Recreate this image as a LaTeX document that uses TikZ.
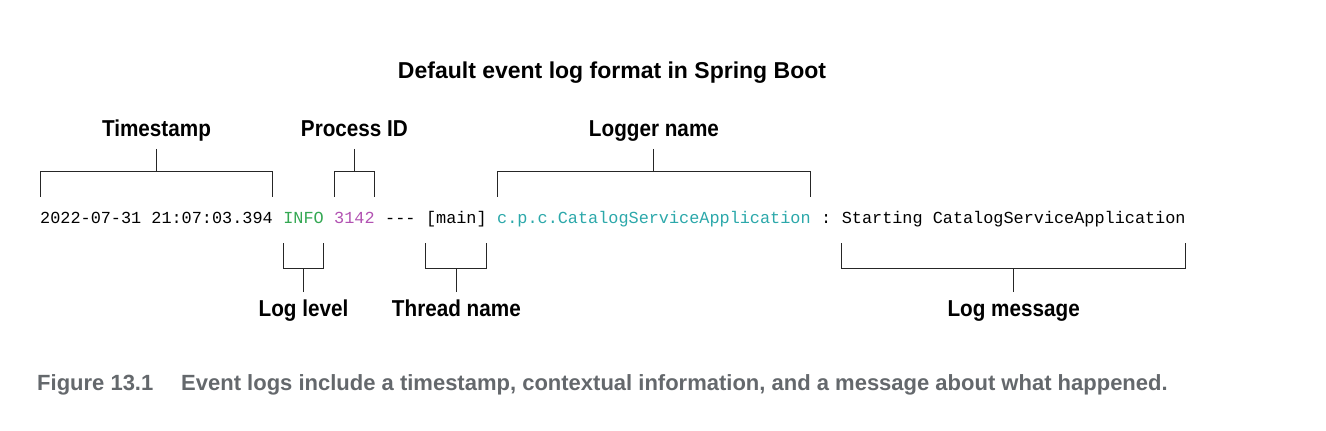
\documentclass[tikz,border=0pt]{standalone}
\usepackage{fontspec}
\setmainfont{Liberation Sans}
\setmonofont{Liberation Mono}
\newfontfamily\labelfont[FakeStretch=0.9]{Liberation Sans}
\usetikzlibrary{positioning}
\definecolor{infogreen}{RGB}{52,168,83}
\definecolor{pidpink}{RGB}{178,82,178}
\definecolor{loggerteal}{RGB}{44,168,170}
\definecolor{captiongray}{RGB}{100,104,108}
\tikzset{
  log text/.style={
    font=\fontsize{16.85}{18}\selectfont\ttfamily,
    inner sep=0pt, text height=12pt, text depth=4pt
  },
  part label/.style={
    font=\fontsize{23}{26}\selectfont\labelfont\bfseries,
    text height=17pt, text depth=5pt,
    inner ysep=7pt, inner xsep=2pt
  },
  bracket/.style={
    line width=1pt, draw=black!85
  },
  caption text/.style={
    font=\fontsize{22}{25}\selectfont\bfseries,
    text=captiongray, anchor=base west, inner sep=0pt
  },
}

\begin{document}
\begin{tikzpicture}[x=1pt, y=-1pt]
  \useasboundingbox (0,0) rectangle (1326,431);

  \node[font=\fontsize{23}{26}\selectfont\bfseries] (title) at (612,73)
    {Default event log format in Spring Boot};

  % The log line
  \node[log text, anchor=base west] (ts) at (40,223) {2022-07-31 21:07:03.394};
  \node[log text, text=infogreen, base right=10.11pt of ts] (lvl) {INFO};
  \node[log text, text=pidpink, base right=10.11pt of lvl] (pid) {3142};
  \node[log text, base right=10.11pt of pid] (sep) {---};
  \node[log text, base right=10.11pt of sep] (thr) {[main]};
  \node[log text, text=loggerteal, base right=10.11pt of thr] (lgr)
    {c.p.c.CatalogServiceApplication};
  \node[log text, base right=10.11pt of lgr] (colon) {:};
  \node[log text, base right=10.11pt of colon] (msg)
    {Starting CatalogServiceApplication};

  % Timestamp
  \node[part label, above=62pt of ts] (tsl) {Timestamp};
  \draw[bracket] ([yshift=14pt]ts.north west) -- ([yshift=39pt]ts.north west)
    -- ([yshift=39pt]ts.north east) -- ([yshift=14pt]ts.north east);
  \draw[bracket] (tsl) -- ([yshift=39pt]ts.north);

  % Process ID
  \node[part label, above=62pt of pid] (pidl) {Process ID};
  \draw[bracket] ([yshift=14pt]pid.north west) -- ([yshift=39pt]pid.north west)
    -- ([yshift=39pt]pid.north east) -- ([yshift=14pt]pid.north east);
  \draw[bracket] (pidl) -- ([yshift=39pt]pid.north);

  % Logger name
  \node[part label, above=62pt of lgr] (lgrl) {Logger name};
  \draw[bracket] ([yshift=14pt]lgr.north west) -- ([yshift=39pt]lgr.north west)
    -- ([yshift=39pt]lgr.north east) -- ([yshift=14pt]lgr.north east);
  \draw[bracket] (lgrl) -- ([yshift=39pt]lgr.north);

  % Log level
  \node[part label, below=65pt of lvl] (lvll) {Log level};
  \draw[bracket] ([yshift=-16pt]lvl.south west) -- ([yshift=-41pt]lvl.south west)
    -- ([yshift=-41pt]lvl.south east) -- ([yshift=-16pt]lvl.south east);
  \draw[bracket] (lvll) -- ([yshift=-41pt]lvl.south);

  % Thread name
  \node[part label, below=65pt of thr] (thrl) {Thread name};
  \draw[bracket] ([yshift=-16pt]thr.south west) -- ([yshift=-41pt]thr.south west)
    -- ([yshift=-41pt]thr.south east) -- ([yshift=-16pt]thr.south east);
  \draw[bracket] (thrl) -- ([yshift=-41pt]thr.south);

  % Log message
  \node[part label, below=65pt of msg] (msgl) {Log message};
  \draw[bracket] ([yshift=-16pt]msg.south west) -- ([yshift=-41pt]msg.south west)
    -- ([yshift=-41pt]msg.south east) -- ([yshift=-16pt]msg.south east);
  \draw[bracket] (msgl) -- ([yshift=-41pt]msg.south);

  % Caption
  \node[caption text] (fig) at (37,390) {Figure 13.1};
  \node[caption text] (cap) at (181,390)
    {Event logs include a timestamp, contextual information, and a message about what happened.};

\end{tikzpicture}
\end{document}
